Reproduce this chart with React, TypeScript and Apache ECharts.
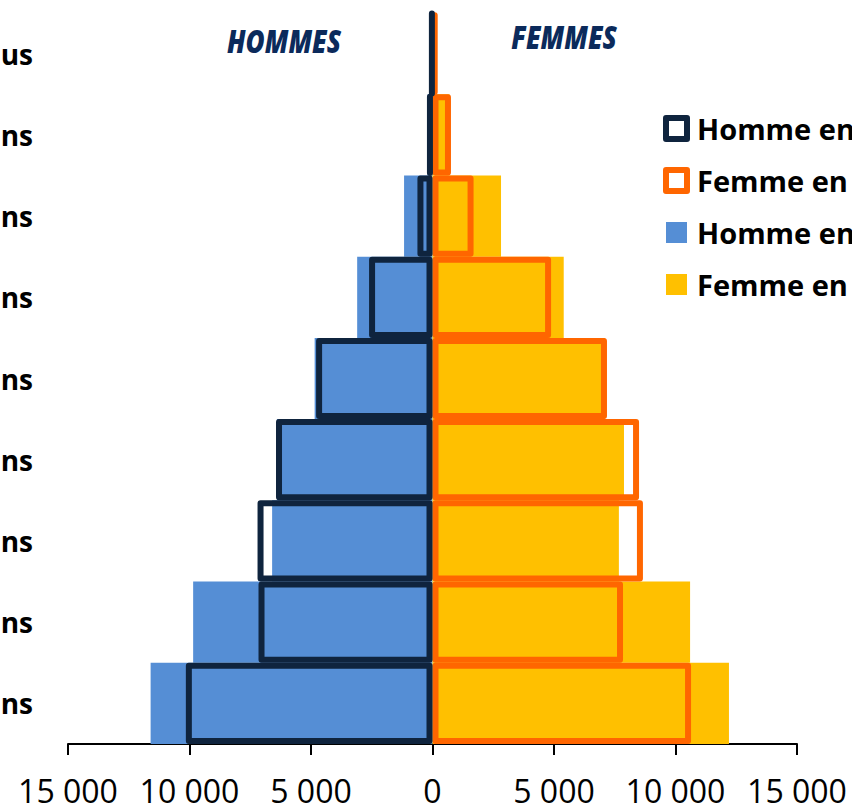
import React, { useEffect, useRef } from "react";
import * as echarts from "echarts";

const categories = [
  "0-9 ans",
  "10-19 ans",
  "20-29 ans",
  "30-39 ans",
  "40-49 ans",
  "50-59 ans",
  "60-69 ans",
  "70-79 ans",
  "80 ans et plus",
];

const seriesNames = ["Homme en 1999", "Femme en 1999", "Homme en 2009", "Femme en 2009"];

// outlined (older census)
const hommesOutline = [10150, 7160, 7200, 6440, 4790, 2610, 620, 210, 50];
const femmesOutline = [10640, 7840, 8660, 8500, 7180, 4880, 1690, 760, 180];
// filled (recent census)
const hommesFilled = [11600, 9850, 6600, 6400, 4850, 3100, 1170, 200, 50];
const femmesFilled = [12200, 10600, 7670, 7880, 7100, 5400, 2820, 700, 100];

const xTicks = { min: -15000, max: 15000, interval: 5000 };

const NAVY = "#0F243E";
const ORANGE = "#FF6600";
const BLUE = "#558ED5";
const YELLOW = "#FFC000";
const TITLE = "#0B2A5B";

function fmt(v: number) {
  return String(Math.abs(v)).replace(/\B(?=(\d{3})+(?!\d))/g, " ");
}

export default function App() {
  const ref = useRef<HTMLDivElement>(null);
  useEffect(() => {
    if (!ref.current) return;
    const chart = echarts.init(ref.current, undefined, { renderer: "svg" });
    const labelFont = "'Open Sans', 'Liberation Sans', sans-serif";
    const titleFont = "italic 800 31px 'Open Sans', sans-serif";
    chart.setOption({
      animation: false,
      backgroundColor: "#ffffff",
      grid: { left: 68, right: 55, top: 13, bottom: 62, containLabel: false, outerBoundsMode: "none" },
      xAxis: {
        type: "value",
        min: xTicks.min,
        max: xTicks.max,
        interval: xTicks.interval,
        splitLine: { show: false },
        axisLine: { show: true, onZero: false, lineStyle: { color: "#000", width: 2 } },
        axisTick: { show: true, length: 11, lineStyle: { color: "#000", width: 2 } },
        axisLabel: {
          formatter: (v: number) => fmt(v),
          color: "#000",
          fontSize: 32,
          fontFamily: labelFont,
          margin: 30,
          hideOverlap: false,
        },
      },
      yAxis: {
        type: "category",
        data: categories,
        axisLine: { show: false, onZero: false },
        axisTick: { show: false },
        splitLine: { show: false },
        axisLabel: {
          color: "#000",
          fontSize: 28,
          fontWeight: "bold",
          fontFamily: labelFont,
          margin: 35,
        },
      },
      legend: {
        orient: "vertical",
        left: 663,
        top: 114,
        padding: 0,
        itemWidth: 21,
        itemHeight: 21,
        itemGap: 23,
        selectedMode: false,
        textStyle: {
          color: "#000",
          fontSize: 29,
          fontWeight: "bold",
          fontFamily: labelFont,
          padding: [0, 0, 0, 5],
        },
        data: [
          {
            name: seriesNames[0],
            icon: "rect",
            itemStyle: { color: "#fff", borderColor: NAVY, borderWidth: 6, borderJoin: "round" },
          },
          {
            name: seriesNames[1],
            icon: "rect",
            itemStyle: { color: "#fff", borderColor: ORANGE, borderWidth: 6, borderJoin: "round" },
          },
          { name: seriesNames[2], icon: "rect", itemStyle: { color: BLUE, borderWidth: 0 } },
          { name: seriesNames[3], icon: "rect", itemStyle: { color: YELLOW, borderWidth: 0 } },
        ],
      },
      graphic: [
        {
          type: "text",
          x: 284,
          y: 41,
          scaleX: 0.84,
          style: {
            text: "HOMMES",
            fill: TITLE,
            font: titleFont,
            textAlign: "center",
            textVerticalAlign: "middle",
          },
        },
        {
          type: "text",
          x: 564,
          y: 37,
          scaleX: 0.84,
          style: {
            text: "FEMMES",
            fill: TITLE,
            font: titleFont,
            textAlign: "center",
            textVerticalAlign: "middle",
          },
        },
      ],
      series: [
        {
          name: seriesNames[2],
          type: "bar",
          data: hommesFilled.map((v) => -v),
          barCategoryGap: "0%",
          barGap: "-100%",
          itemStyle: { color: BLUE },
        },
        {
          name: seriesNames[3],
          type: "bar",
          data: femmesFilled,
          barCategoryGap: "0%",
          barGap: "-100%",
          itemStyle: { color: YELLOW },
        },
        {
          name: seriesNames[1],
          type: "bar",
          data: femmesOutline,
          barCategoryGap: "0%",
          barGap: "-100%",
          itemStyle: {
            color: "rgba(0,0,0,0)",
            borderColor: ORANGE,
            borderWidth: 6,
            borderJoin: "round",
          },
        },
        {
          name: seriesNames[0],
          type: "bar",
          data: hommesOutline.map((v) => -v),
          barCategoryGap: "0%",
          barGap: "-100%",
          itemStyle: {
            color: "rgba(0,0,0,0)",
            borderColor: NAVY,
            borderWidth: 6,
            borderJoin: "round",
          },
        },
      ],
    });
    return () => chart.dispose();
  }, []);
  return (
    <div
      ref={ref}
      style={{ position: "fixed", left: 0, top: 0, width: 852, height: 806, background: "#fff" }}
    />
  );
}
